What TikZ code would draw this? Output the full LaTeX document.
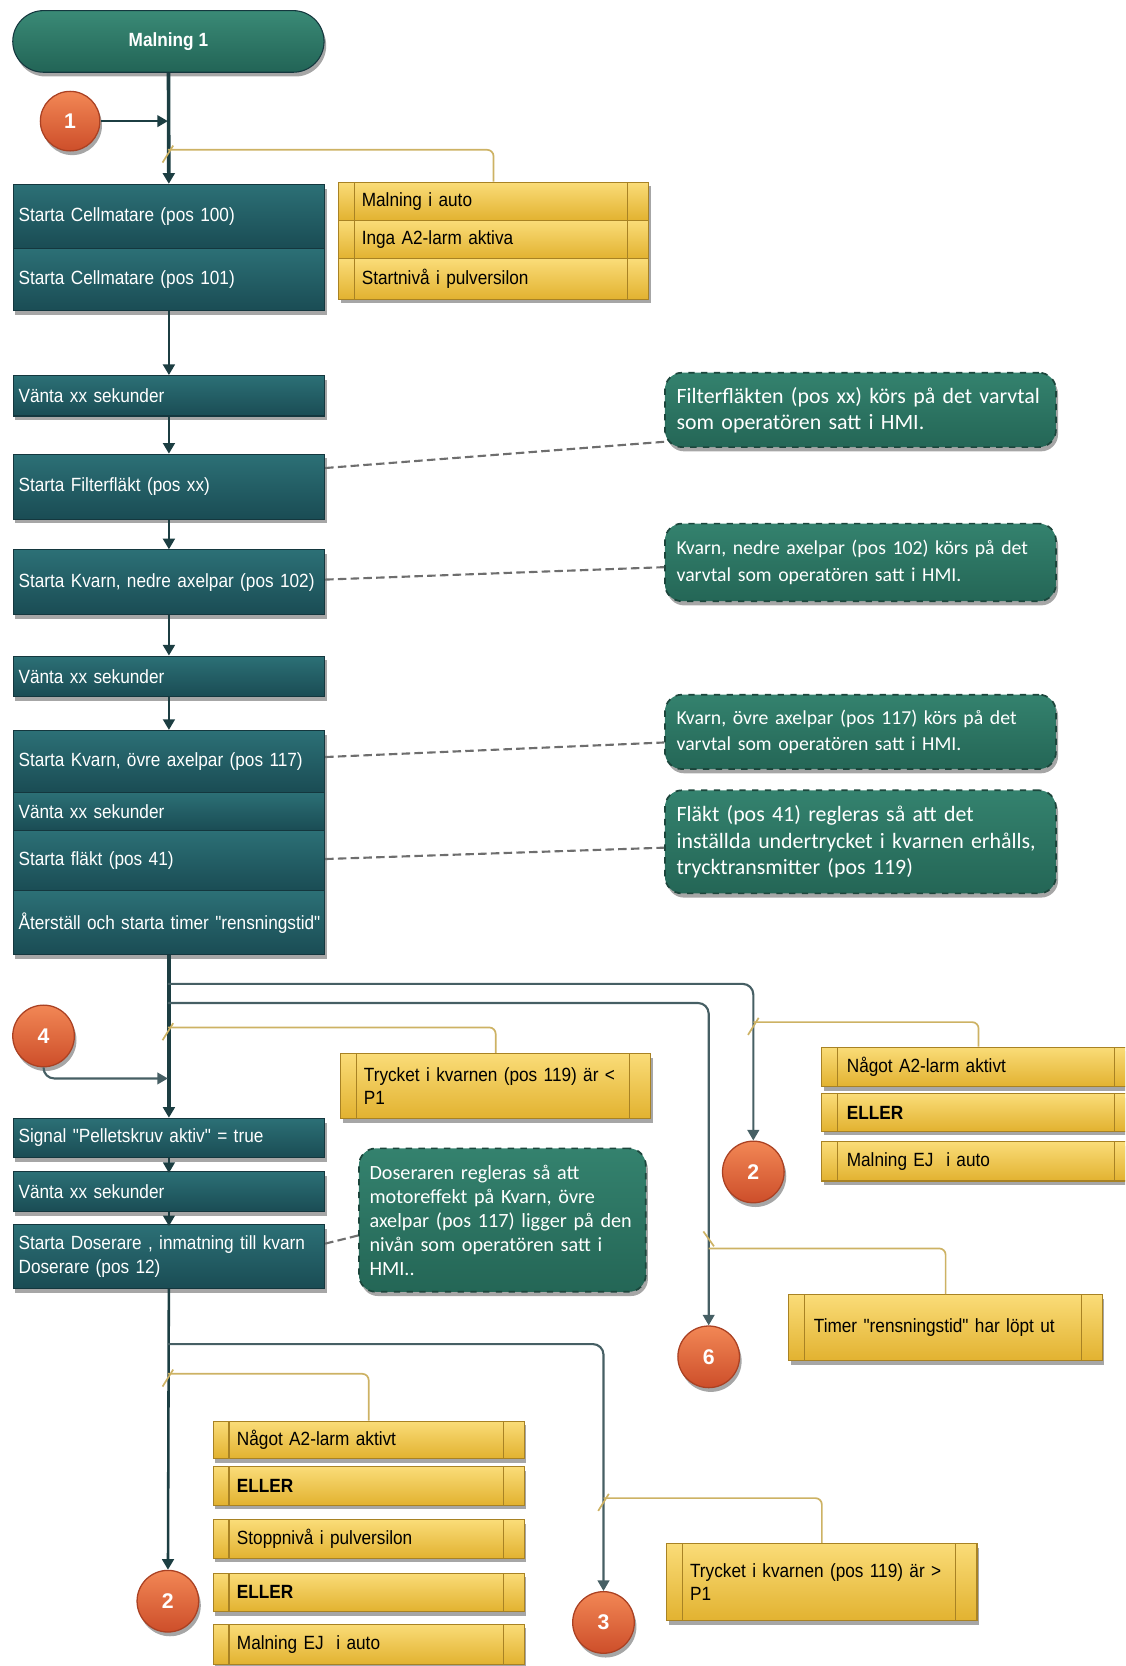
\documentclass[tikz,border=0pt]{standalone}
\usepackage{fontspec}
\setmainfont{Liberation Sans}
\newfontfamily\procfont[FakeStretch=0.9]{Liberation Sans}
\newfontfamily\notefont{Carlito}
\usetikzlibrary{arrows.meta,shadows,calc}
\definecolor{procT}{RGB}{44,112,118}
\definecolor{procB}{RGB}{26,76,84}
\definecolor{procD}{RGB}{20,55,62}
\definecolor{termT}{RGB}{58,138,118}
\definecolor{termB}{RGB}{34,100,86}
\definecolor{noteT}{RGB}{52,130,110}
\definecolor{noteB}{RGB}{36,102,86}
\definecolor{noteD}{RGB}{28,70,60}
\definecolor{yelT}{RGB}{250,220,120}
\definecolor{yelB}{RGB}{226,178,48}
\definecolor{yelD}{RGB}{168,130,36}
\definecolor{yelL}{RGB}{205,178,100}
\definecolor{ballT}{RGB}{242,135,85}
\definecolor{ballB}{RGB}{205,78,42}
\definecolor{ballD}{RGB}{170,65,35}
\definecolor{lineC}{RGB}{28,62,66}
\definecolor{brC}{RGB}{70,95,100}
\definecolor{dashC}{RGB}{110,110,110}
\tikzset{
  shad/.style={drop shadow={shadow xshift=1pt,shadow yshift=-2pt,opacity=0.35,fill=black}},
  proc/.style={rectangle, anchor=north west, minimum width=146.5pt, text width=141.5pt,
    inner xsep=2.5pt, inner ysep=1pt, align=left, top color=procT, bottom color=procB,
    draw=procD, line width=0.5pt, text=white, font=\procfont\fontsize{9}{11}\selectfont, shad},
  term/.style={rectangle, rounded corners=14.5pt, minimum width=146.5pt, minimum height=29pt,
    top color=termT, bottom color=termB, draw=procD, line width=0.5pt, text=white,
    font=\procfont\bfseries\fontsize{9}{11}\selectfont, shad},
  cond/.style={rectangle, anchor=north west, minimum width=146pt, text width=124pt,
    inner xsep=11pt, inner ysep=1pt, align=left, top color=yelT, bottom color=yelB,
    draw=yelD, line width=0.5pt, text=black, font=\procfont\fontsize{9}{11}\selectfont, shad,
    path picture={
      \draw[yelD,line width=0.5pt] ([xshift=7.5pt]path picture bounding box.north west) -- ([xshift=7.5pt]path picture bounding box.south west);
      \draw[yelD,line width=0.5pt] ([xshift=-10pt]path picture bounding box.north east) -- ([xshift=-10pt]path picture bounding box.south east);}},
  note/.style={rectangle, anchor=north west, rounded corners=8pt, minimum width=184pt, text width=173pt,
    inner xsep=5.5pt, inner ysep=1pt, align=left, top color=noteT, bottom color=noteB,
    draw=noteD, dashed, line width=0.8pt, text=white, font=\notefont\fontsize{9.3}{12.3}\selectfont, shad},
  bignote/.style={note, font=\notefont\fontsize{10.3}{12.3}\selectfont},
  ball/.style={circle, minimum size=29pt, inner sep=0pt, top color=ballT, bottom color=ballB,
    draw=ballD, line width=0.6pt, text=white, font=\bfseries\fontsize{10}{12}\selectfont, shad},
  conn/.style={draw=lineC, line width=1.2pt, ->},
  thick conn/.style={draw=lineC, line width=1.7pt, ->},
  brline/.style={draw=brC, line width=1pt, rounded corners=5pt, ->},
  yline/.style={draw=yelL, line width=0.8pt, rounded corners=3pt},
  ytick/.style={draw=yelL, line width=0.8pt},
  dashl/.style={draw=dashC, line width=1pt, dash pattern=on 4pt off 2pt},
}
\begin{document}
\begin{tikzpicture}[x=0.5pt,y=-0.5pt,>={Triangle[length=5pt,width=5.5pt]}]
\useasboundingbox (0,0) rectangle (1059,1568);
\clip (0,0) rectangle (1059,1568);

% ---------- nodes: top part ----------
\node[term] (term) at (158.5,39) {Malning 1};
\node[ball, minimum size=28pt] (c1) at (66,114) {1};
\node[proc, minimum height=30pt] (c100) at (12,173) {Starta Cellmatare (pos 100)};
\node[proc, minimum height=29.5pt] (c101) at (12,233) {Starta Cellmatare (pos 101)};
\node[cond, minimum height=18pt] (y1a) at (318,171) {Malning i auto};
\node[cond, minimum height=18pt] (y1b) at (318,207) {Inga A2-larm aktiva};
\node[cond, minimum height=19pt] (y1c) at (318,243) {Startnivå i pulversilon};
\node[proc, minimum height=19pt] (v1) at (12,353) {Vänta xx sekunder};
\node[proc, minimum height=30.5pt] (ff) at (12,427) {Starta Filterfläkt (pos xx)};
\node[proc, minimum height=30.5pt] (kn) at (12,517) {Starta Kvarn, nedre axelpar (pos 102)};
\node[proc, minimum height=19pt] (v2) at (12,617) {Vänta xx sekunder};
\node[proc, minimum height=29pt] (ko) at (12,687) {Starta Kvarn, övre axelpar (pos 117)};
\node[proc, minimum height=18pt] (v3) at (12,745) {Vänta xx sekunder};
\node[proc, minimum height=28.5pt] (fl) at (12,781) {Starta fläkt (pos 41)};
\node[proc, minimum height=30pt] (rst) at (12,838) {\mbox{Återställ och starta timer "rensningstid"}};

\node[bignote, minimum height=35pt] (a1) at (625,350) {Filterfläkten (pos xx) körs på det varvtal\\som operatören satt i HMI.};
\node[note, minimum height=36.5pt] (a2) at (625,492) {Kvarn, nedre axelpar (pos 102) körs på det\\varvtal som operatören satt i HMI.};
\node[note, minimum height=35pt] (a3) at (625,653) {Kvarn, övre axelpar (pos 117) körs på det\\varvtal som operatören satt i HMI.};
\node[bignote, minimum height=48.5pt, font=\notefont\fontsize{10.3}{12.5}\selectfont] (a4) at (625,743) {Fläkt (pos 41) regleras så att det\\inställda undertrycket i kvarnen erhålls,\\trycktransmitter (pos 119)};

% ---------- nodes: lower part ----------
\node[ball] (c4) at (41,975) {4};
\node[cond, minimum height=30.5pt] (ytl) at (320,991) {Trycket i kvarnen (pos 119) är <\\P1};
\node[proc, minimum height=18.5pt] (sig) at (12,1052) {Signal "Pelletskruv aktiv" = true};
\node[proc, minimum height=19pt] (v4) at (12,1102) {Vänta xx sekunder};
\node[proc, minimum height=30pt] (dos) at (12,1152) {Starta Doserare , inmatning till kvarn\\Doserare (pos 12)};
\node[note, minimum width=135pt, text width=125pt, inner xsep=5pt, minimum height=67.5pt,
  font=\notefont\fontsize{9.5}{11.3}\selectfont] (a5) at (337,1080)
  {Doseraren regleras så att\\motoreffekt på Kvarn, övre\\axelpar (pos 117) ligger på den\\nivån som operatören satt i\\HMI..};

\node[ball] (c2a) at (709,1103) {2};
\node[ball] (c6) at (667,1277) {6};
\node[cond, minimum width=147.5pt, minimum height=18.5pt] (y2a) at (773,985) {Något A2-larm aktivt};
\node[cond, minimum width=147.5pt, minimum height=17.5pt] (y2b) at (773,1029) {\textbf{ELLER}};
\node[cond, minimum width=147.5pt, minimum height=18.5pt] (y2c) at (773,1074) {Malning EJ\ \ i auto};
\node[cond, minimum width=147.5pt, minimum height=31pt] (y3) at (742,1218) {Timer "rensningstid" har löpt ut};

\node[ball] (c2b) at (158,1507) {2};
\node[ball] (c3) at (568,1527) {3};
\node[cond, minimum width=146.5pt, minimum height=17.5pt] (y4a) at (200,1337) {Något A2-larm aktivt};
\node[cond, minimum width=146.5pt, minimum height=18pt] (y4b) at (200,1380) {\textbf{ELLER}};
\node[cond, minimum width=146.5pt, minimum height=18pt] (y4c) at (200,1430) {Stoppnivå i pulversilon};
\node[cond, minimum width=146.5pt, minimum height=18pt] (y4d) at (200,1480) {\textbf{ELLER}};
\node[cond, minimum width=146.5pt, minimum height=19pt] (y4e) at (200,1528) {Malning EJ\ \ i auto};
\node[cond, minimum width=145.5pt, minimum height=36.5pt] (y5) at (627,1452) {Trycket i kvarnen (pos 119) är >\\P1};

% ---------- junction coordinates ----------
\coordinate (m1) at (158,114);
\coordinate (j1) at (158,141);
\coordinate (b1) at (158,926);
\coordinate (b2) at (158,944);
\coordinate (jtl) at (158,967);
\coordinate (m4) at (158,1015);
\coordinate (j2) at (709,962);
\coordinate (j6) at (667,1175);
\coordinate (b3) at (158,1265);
\coordinate (j4) at (158,1293);
\coordinate (j3) at (568,1410);

% ---------- main connectors ----------
\draw[thick conn] (term) -- (c100);
\draw[conn, line width=1pt] (c1) -- (m1);
\draw[conn] (c101) -- (v1);
\draw[conn] (v1) -- (ff);
\draw[conn] (ff) -- (kn);
\draw[conn] (kn) -- (v2);
\draw[conn] (v2) -- (ko);
\draw[thick conn] (rst) -- (sig);
\draw[brline] (c4.south) |- (m4);
\draw[brline] (b1) -| (c2a);
\draw[brline] (b2) -| (c6);
\draw[conn, line width=1pt, shorten >=-1pt] (sig) -- (v4);
\draw[conn, line width=1pt, shorten >=-1pt] (v4) -- (dos);
\draw[conn] (dos) -- (c2b);
\draw[brline] (b3) -| (c3);

% ---------- condition connectors ----------
\draw[yline] (y1a.north) |- (j1);
\draw[yline] (ytl.north) |- (jtl);
\draw[yline] (y2a.north) |- (j2);
\draw[yline] (y3.north) |- (j6);
\draw[yline] (y4a.north) |- (j4);
\draw[yline] (y5.north) |- (j3);
\foreach \j in {j1,jtl,j2,j4,j3} {\draw[ytick] (\j) ++(-5,12) -- ++(10,-16);}
\draw[ytick] (j6) ++(-5,-16) -- ++(10,14);

% ---------- annotation connectors ----------
\draw[dashl] ([yshift=8.75pt]ff.east) -- ([yshift=-15pt]a1.west);
\draw[dashl] ([yshift=1.25pt]kn.east) -- ([yshift=-2.25pt]a2.west);
\draw[dashl] ([yshift=2pt]ko.east) -- ([yshift=-5pt]a3.west);
\draw[dashl] ([yshift=0.75pt]fl.east) -- ([yshift=-2.75pt]a4.west);
\draw[dashl] ([yshift=6pt]dos.east) -- ([yshift=-7.25pt]a5.west);
\end{tikzpicture}
\end{document}
